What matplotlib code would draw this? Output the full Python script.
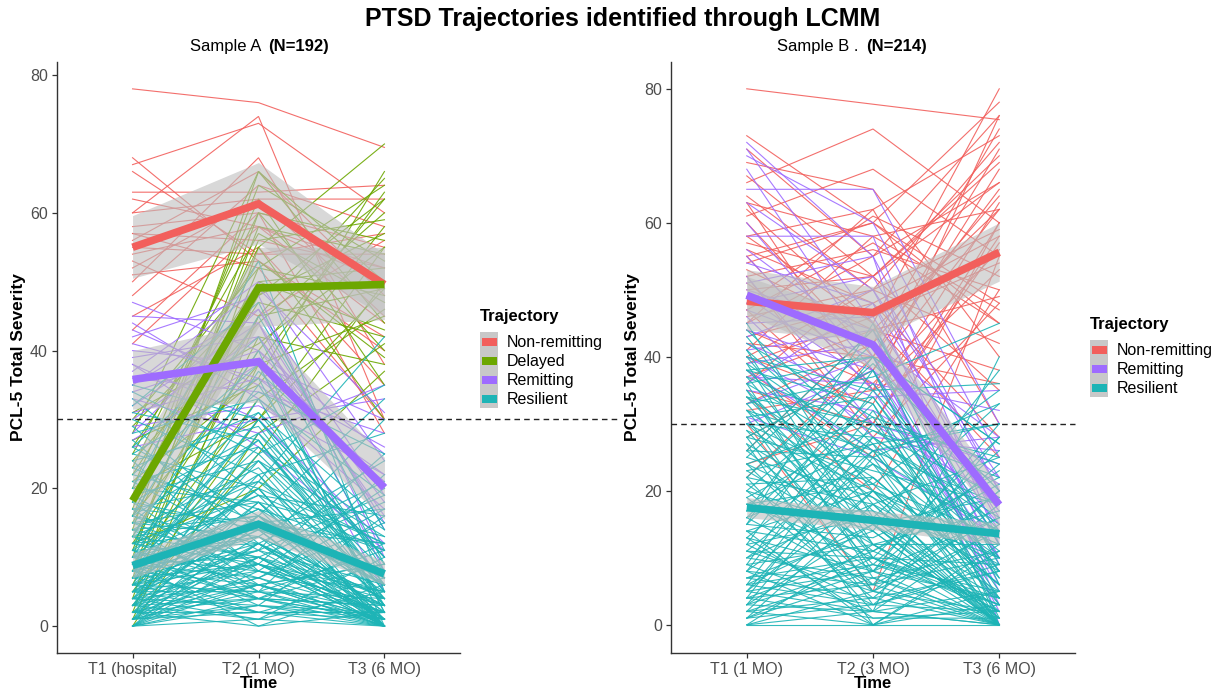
import numpy as np
import matplotlib
matplotlib.use("Agg")
import matplotlib.pyplot as plt
from matplotlib.patches import Rectangle
from matplotlib.lines import Line2D
from matplotlib.legend_handler import HandlerBase

plt.rcParams['font.family'] = ['Liberation Sans', 'DejaVu Sans']

time_a = ['T1 (hospital)', 'T2 (1 MO)', 'T3 (6 MO)']
time_b = ['T1 (1 MO)', 'T2 (3 MO)', 'T3 (6 MO)']
classes_a = ['Non-remitting', 'Delayed', 'Remitting', 'Resilient']
classes_b = ['Non-remitting', 'Remitting', 'Resilient']
class_colors = {'Non-remitting': '#F25F5C', 'Delayed': '#6CA700',
                'Remitting': '#9E6BFF', 'Resilient': '#1DB4B6'}

# individual trajectories (T1, T2, T3), Sample A
a_nonrem = [(78, 76, 69.5), (67, 73, 60), (68, 53, 40), (63, 63, 64), (60, 74, 30),
            (60, 62, 62), (58, 60, 55), (57, 56, 52), (56, 66, 48), (55, 54, 54),
            (54, 58, 50), (53, 45, 56), (52, 62, 45), (51, 53, 42), (50, 68, 38),
            (48, 64, 58), (45, 55, 35), (43, 60, 28), (41, 58, 52), (57, 52, 30),
            (62, 58, 44), (66, 54, 57)]
a_delayed = [(2, 45, 65), (5, 30, 55), (8, 52, 48), (10, 60, 40), (12, 40, 62),
             (14, 66, 50), (15, 48, 57), (16, 38, 45), (18, 55, 70), (20, 62, 35),
             (22, 50, 52), (24, 44, 60), (25, 57, 47), (27, 35, 58), (28, 66, 44),
             (30, 52, 64), (6, 42, 38), (3, 25, 50), (11, 58, 54), (19, 47, 42),
             (21, 36, 66), (23, 60, 56), (26, 53, 39), (13, 45, 49), (17, 64, 53),
             (9, 33, 46), (29, 48, 62), (4, 55, 30), (7, 50, 43), (31, 41, 55),
             (16, 56, 59), (20, 30, 49), (0, 28, 41), (1, 38, 63), (12, 20, 37)]
a_remit = [(47, 40, 25), (45, 44, 15), (43, 35, 22), (42, 48, 10), (40, 38, 30),
           (39, 42, 18), (38, 30, 12), (37, 50, 24), (36, 34, 28), (35, 46, 14),
           (34, 40, 20), (33, 28, 35), (32, 44, 8), (31, 36, 26), (30, 42, 16),
           (29, 32, 22), (28, 46, 19), (27, 38, 5), (26, 30, 33), (41, 36, 21),
           (44, 33, 17), (35, 49, 31), (38, 26, 11)]
a_resil = [(0, 3, 0), (0, 8, 2), (1, 12, 0), (1, 5, 4), (2, 18, 1), (2, 0, 6), (3, 10, 3),
           (3, 22, 0), (4, 6, 9), (4, 15, 2), (5, 2, 0), (5, 25, 7), (6, 9, 5), (6, 14, 12),
           (7, 20, 0), (7, 4, 3), (8, 30, 10), (8, 11, 1), (9, 17, 6), (9, 7, 15),
           (10, 24, 4), (10, 13, 0), (11, 35, 8), (11, 6, 2), (12, 19, 11), (12, 27, 5),
           (13, 10, 18), (13, 40, 0), (14, 16, 7), (14, 23, 3), (15, 8, 20), (15, 31, 9),
           (16, 12, 1), (16, 45, 14), (17, 21, 6), (17, 5, 22), (18, 28, 10), (18, 14, 0),
           (19, 34, 25), (19, 9, 4), (20, 53, 5), (20, 18, 13), (21, 26, 8), (21, 11, 30),
           (22, 38, 2), (23, 15, 17), (24, 29, 6), (25, 20, 12), (26, 42, 9), (27, 12, 3),
           (28, 33, 19), (30, 22, 28), (32, 47, 11), (34, 25, 35), (0, 15, 8), (1, 21, 12),
           (2, 7, 17), (3, 28, 5), (4, 1, 10), (5, 16, 0), (6, 33, 3), (7, 12, 21),
           (8, 2, 7), (9, 26, 14), (10, 19, 1), (11, 3, 16), (12, 9, 25), (2, 13, 4),
           (3, 4, 1), (1, 2, 2), (0, 10, 5), (4, 24, 13), (5, 11, 19), (6, 20, 0),
           (7, 30, 6), (8, 17, 11), (9, 0, 2), (10, 37, 20), (13, 21, 42), (14, 4, 9),
           (15, 13, 24), (16, 27, 3), (17, 15, 12), (18, 6, 1), (19, 24, 7), (22, 17, 0),
           (23, 31, 15), (24, 8, 5), (25, 36, 2), (26, 16, 33), (29, 14, 7), (31, 27, 4),
           (33, 19, 16), (35, 30, 10), (0, 6, 1), (1, 9, 0), (2, 4, 3), (3, 16, 2),
           (0, 1, 0), (0, 4, 1), (1, 6, 0), (1, 3, 1), (2, 10, 0), (2, 2, 2), (3, 7, 0),
           (3, 12, 4), (4, 9, 0), (4, 3, 2), (5, 8, 3), (5, 14, 1), (6, 5, 0), (6, 11, 6),
           (7, 9, 2), (7, 15, 8), (8, 6, 0), (8, 13, 4), (9, 10, 1), (9, 4, 0), (10, 8, 3),
           (10, 15, 6), (11, 12, 0), (12, 7, 2), (12, 14, 8), (13, 5, 1), (14, 10, 0),
           (15, 18, 4), (16, 9, 2), (0, 12, 3), (1, 16, 6), (2, 6, 9), (3, 1, 5), (4, 18, 0),
           (5, 5, 11), (6, 2, 1), (8, 20, 0), (10, 4, 12), (11, 22, 3), (13, 16, 5)]

# individual trajectories, Sample B
b_nonrem = [(80, 77.7, 75.4), (73, 60, 48), (71, 55, 76), (69, 65, 40), (66, 74, 60),
            (64, 50, 72), (63, 58, 62), (62, 45, 80), (61, 68, 55), (60, 40, 65),
            (58, 62, 30), (57, 52, 70), (56, 48, 58), (55, 35, 76), (54, 60, 45),
            (53, 44, 62), (52, 56, 50), (51, 38, 68), (50, 52, 35), (49, 42, 74),
            (48, 61, 52), (47, 30, 60), (46, 50, 42), (45, 55, 66), (44, 36, 56),
            (43, 48, 28), (42, 40, 71), (41, 58, 47), (40, 33, 63), (39, 46, 54),
            (38, 25, 60), (37, 44, 38), (36, 52, 69), (35, 30, 57), (34, 20, 50),
            (33, 42, 64), (32, 35, 44), (30, 5, 55), (28, 38, 62), (26, 44, 49),
            (24, 30, 58), (22, 40, 36), (45, 62, 73), (52, 28, 48), (58, 45, 25),
            (63, 35, 53), (67, 52, 66), (55, 60, 78), (47, 57, 45), (40, 50, 59)]
b_remit = [(72, 55, 20), (71, 45, 10), (70, 60, 25), (68, 40, 5), (65, 65, 30),
           (63, 50, 15), (60, 38, 22), (58, 58, 12), (56, 42, 28), (55, 35, 8),
           (54, 48, 18), (52, 30, 24), (51, 55, 0), (50, 44, 14), (49, 36, 32),
           (48, 52, 20), (47, 40, 6), (46, 28, 26), (45, 46, 16), (44, 38, 10),
           (43, 50, 22), (42, 34, 35), (41, 44, 3), (40, 30, 19), (39, 42, 12),
           (38, 26, 28), (37, 36, 15), (36, 48, 9), (35, 32, 21), (33, 40, 17),
           (31, 25, 13), (30, 38, 2)]
b_resil = [(0, 0, 0), (0, 5, 2), (0, 12, 0), (1, 3, 8), (1, 18, 0), (2, 8, 4), (2, 0, 12),
           (3, 15, 1), (3, 25, 0), (4, 6, 10), (4, 11, 3), (5, 20, 0), (5, 2, 15), (6, 9, 5),
           (6, 30, 8), (7, 14, 0), (7, 4, 20), (8, 22, 6), (8, 0, 11), (9, 12, 2),
           (9, 35, 14), (10, 7, 0), (10, 18, 25), (11, 26, 4), (11, 10, 9), (12, 3, 18),
           (12, 16, 0), (13, 28, 7), (13, 8, 30), (14, 20, 12), (14, 0, 3), (15, 13, 22),
           (15, 33, 5), (16, 6, 16), (16, 24, 0), (17, 17, 10), (17, 40, 27), (18, 10, 2),
           (18, 21, 35), (19, 4, 8), (19, 29, 19), (20, 14, 0), (20, 36, 13), (21, 8, 24),
           (21, 22, 6), (22, 18, 1), (22, 2, 40), (23, 27, 11), (23, 12, 17), (24, 31, 3),
           (24, 6, 28), (25, 19, 9), (25, 42, 0), (26, 11, 21), (26, 25, 14), (27, 16, 33),
           (27, 0, 5), (28, 23, 18), (28, 38, 7), (29, 9, 26), (29, 20, 0), (30, 28, 15),
           (30, 14, 38), (31, 34, 10), (31, 5, 20), (32, 19, 2), (32, 26, 30), (33, 12, 12),
           (33, 37, 45), (34, 22, 6), (34, 30, 25), (35, 17, 0), (35, 8, 16), (36, 25, 33),
           (36, 40, 9), (37, 15, 4), (37, 29, 22), (38, 21, 13), (38, 33, 0), (39, 10, 28),
           (39, 26, 18), (40, 18, 8), (40, 35, 36), (41, 24, 14), (41, 12, 2), (42, 31, 24),
           (43, 20, 10), (44, 27, 30), (45, 16, 5), (2, 20, 6), (3, 9, 3), (4, 28, 16),
           (6, 15, 0), (8, 32, 4), (10, 24, 10), (12, 38, 1), (14, 11, 23), (16, 34, 8),
           (18, 27, 0), (20, 5, 14), (22, 39, 20), (24, 15, 0), (26, 44, 12), (28, 3, 9),
           (30, 21, 4), (32, 10, 0), (34, 15, 19), (36, 7, 11), (38, 40, 27), (15, 45, 6),
           (5, 26, 3), (1, 7, 1), (3, 2, 0), (7, 10, 4), (0, 2, 0), (1, 10, 3),
           (2, 4, 0), (4, 1, 1), (5, 8, 0), (6, 3, 2), (8, 6, 0), (9, 2, 5), (11, 5, 0),
           (13, 1, 2)]

# class means with confidence band (lower, upper)
a_mean_nonrem, a_lo_nonrem, a_hi_nonrem = [55, 61.3, 49.6], [50.5, 55.5, 45], [59.6, 67.3, 54]
a_mean_delayed, a_lo_delayed, a_hi_delayed = [18.2, 49.1, 49.6], [12.5, 43.5, 44.5], [24, 55, 55]
a_mean_remit, a_lo_remit, a_hi_remit = [35.8, 38.4, 20.1], [31.5, 32.5, 15.5], [40, 44, 24.5]
a_mean_resil, a_lo_resil, a_hi_resil = [8.8, 14.8, 7.6], [7, 12.8, 6], [10.6, 16.8, 9.4]

b_mean_nonrem, b_lo_nonrem, b_hi_nonrem = [48.3, 46.6, 55.6], [44, 42.5, 51.3], [53, 50.5, 60]
b_mean_remit, b_lo_remit, b_hi_remit = [49.2, 41.8, 17.9], [46.3, 38.3, 15], [52, 45.5, 20.8]
b_mean_resil, b_lo_resil, b_hi_resil = [17.5, 15.6, 13.6], [16, 14.2, 12], [19, 17, 15.2]


class RibbonKey(HandlerBase):
    """ggplot-style key: grey ribbon square with a coloured bar inside."""
    def create_artists(self, legend, orig_handle, xdescent, ydescent, width, height,
                       fontsize, trans):
        bg = Rectangle((-xdescent, -ydescent), width, height, facecolor='#C8C8C8',
                       edgecolor='none', transform=trans)
        bar_h = height * 0.42
        fg = Rectangle((-xdescent + width * 0.1, -ydescent + (height - bar_h) / 2),
                       width * 0.8, bar_h, facecolor=orig_handle.get_color(),
                       edgecolor='none', transform=trans)
        return [bg, fg]


def draw_panel(ax, times, classes, indiv, means, lows, highs):
    x = np.arange(1, 4)
    # thin individual lines
    for cl in classes:
        for traj in indiv[cl]:
            ax.plot(x, traj, color=class_colors[cl], lw=0.8, alpha=0.9,
                    solid_joinstyle='miter', zorder=2)
    # confidence ribbons
    for cl in classes:
        ax.fill_between(x, lows[cl], highs[cl], color='#BEBEBE', alpha=0.6,
                        lw=0, zorder=3)
    # class mean trajectories
    for cl in classes:
        ax.plot(x, means[cl], color=class_colors[cl], lw=5.5,
                solid_joinstyle='miter', solid_capstyle='butt', zorder=4)

    ax.set_xlim(0.4, 3.6)
    ax.set_xticks(x)
    ax.set_xticklabels(times)
    ax.set_yticks([0, 20, 40, 60, 80])
    for side in ['top', 'right']:
        ax.spines[side].set_visible(False)
    for side in ['left', 'bottom']:
        ax.spines[side].set_color('#333333')
        ax.spines[side].set_linewidth(1.0)
    ax.tick_params(length=3.5, width=0.9, color='#333333', labelcolor='#4D4D4D',
                   labelsize=11.5, pad=3)
    ax.set_xlabel('Time', fontsize=12, fontweight='bold', labelpad=-1)
    ax.set_ylabel('PCL-5 Total Severity', fontsize=12.5, fontweight='bold', labelpad=3)

    return [Line2D([], [], color=class_colors[cl]) for cl in classes]


fig = plt.figure(figsize=(12.3, 6.92), dpi=100)
ax_a = fig.add_axes([57 / 1230, 39 / 692, 403 / 1230, 591 / 692])
ax_b = fig.add_axes([671 / 1230, 39 / 692, 404 / 1230, 591 / 692])

h_a = draw_panel(ax_a, time_a, classes_a,
                 dict(zip(classes_a, [a_nonrem, a_delayed, a_remit, a_resil])),
                 dict(zip(classes_a, [a_mean_nonrem, a_mean_delayed, a_mean_remit, a_mean_resil])),
                 dict(zip(classes_a, [a_lo_nonrem, a_lo_delayed, a_lo_remit, a_lo_resil])),
                 dict(zip(classes_a, [a_hi_nonrem, a_hi_delayed, a_hi_remit, a_hi_resil])))
h_b = draw_panel(ax_b, time_b, classes_b,
                 dict(zip(classes_b, [b_nonrem, b_remit, b_resil])),
                 dict(zip(classes_b, [b_mean_nonrem, b_mean_remit, b_mean_resil])),
                 dict(zip(classes_b, [b_lo_nonrem, b_lo_remit, b_lo_resil])),
                 dict(zip(classes_b, [b_hi_nonrem, b_hi_remit, b_hi_resil])))

ax_a.set_ylim(-3.9, 81.9)
ax_b.set_ylim(-4.2, 84.0)

# PTSD cut-off
ax_a.axhline(30, xmin=0, xmax=(620 - 57) / 403, color='#222222', lw=1.0,
             ls=(0, (4, 3)), clip_on=False, zorder=5)
ax_b.axhline(30, xmin=0, xmax=1.0, color='#222222', lw=1.0,
             ls=(0, (4, 3)), clip_on=False, zorder=5)

for handles, classes, anchor in [(h_a, classes_a, (480 / 1230, 1 - 309 / 692)),
                                 (h_b, classes_b, (1090 / 1230, 1 - 317 / 692))]:
    leg = fig.legend(handles, classes, handler_map={Line2D: RibbonKey()},
                     loc='upper left', bbox_to_anchor=anchor, frameon=False,
                     title='Trajectory', fontsize=11.5, handlelength=1.15,
                     handleheight=1.45, labelspacing=0.0, handletextpad=0.55,
                     borderpad=0, borderaxespad=0)
    leg.get_title().set_fontweight('bold')
    leg.get_title().set_fontsize(12)
    leg._legend_box.align = 'left'
    leg._legend_box.sep = 6

# panel subtitles
ax_a.text(0.507, 1.027, 'Sample A', transform=ax_a.transAxes, ha='right', va='center',
          fontsize=12)
ax_a.text(0.525, 1.027, '(N=192)', transform=ax_a.transAxes, ha='left', va='center',
          fontsize=12, fontweight='bold')
ax_b.text(0.465, 1.027, 'Sample B .', transform=ax_b.transAxes, ha='right', va='center',
          fontsize=12)
ax_b.text(0.483, 1.027, '(N=214)', transform=ax_b.transAxes, ha='left', va='center',
          fontsize=12, fontweight='bold')

fig.text(0.506, 0.973, 'PTSD Trajectories identified through LCMM', ha='center',
         va='center', fontsize=18, fontweight='bold')

fig.savefig('out.png', dpi=100, facecolor='white')
